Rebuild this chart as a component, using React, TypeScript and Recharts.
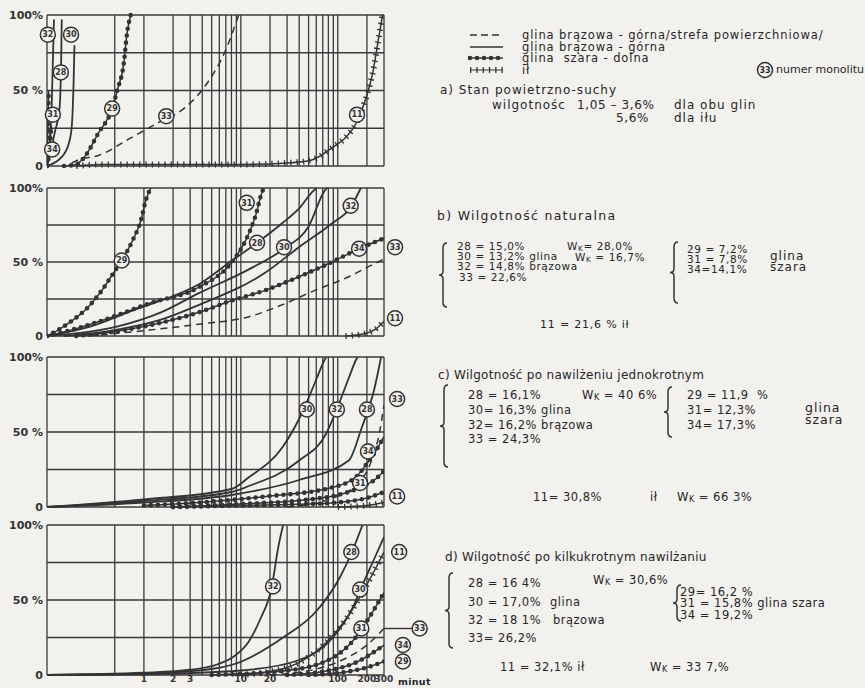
import React from 'react';
import { LineChart, Line, XAxis, YAxis, CartesianGrid, ReferenceDot, ReferenceLine } from 'recharts';

type P = { t: number; v: number };
const pts = (...pairs: number[][]): P[] => pairs.map(([t, v]) => ({ t, v }));

const PAPER = '#f2f1ee';
const INK = '#333333';
const FONT = '"DejaVu Sans", sans-serif';

// time axis (minutes, log) and percent axis
const xTicks = [0.1, 0.5, 1, 2, 3, 4, 5, 6, 7, 8, 9, 10, 20, 30, 40, 50, 60, 70, 80, 90, 100, 200, 300];
const xLabels = [1, 2, 3, 10, 20, 100, 200, 300];
const yTicks = [0, 25, 50, 75, 100];

// a) stan powietrzno-suchy
const a32 = pts([0.1, 0], [0.105, 12], [0.112, 42], [0.118, 97]);
const a28 = pts([0.1, 0], [0.105, 5], [0.12, 22], [0.135, 39], [0.14, 70], [0.142, 97]);
const a30 = pts([0.1, 0], [0.142, 6], [0.168, 15], [0.18, 26], [0.188, 55], [0.192, 80]);
const a31 = pts([0.1, 0], [0.102, 25], [0.104, 50]);
const a34 = pts([0.1, 0], [0.106, 10], [0.111, 27]);
const a29 = pts([0.15, 0], [0.2, 1], [0.25, 7], [0.34, 22], [0.47, 38], [0.53, 50], [0.62, 68], [0.67, 88], [0.73, 100]);
const a33 = pts([0.18, 2], [0.21, 4], [0.34, 7], [0.75, 19], [1.43, 29], [2.7, 39], [4.4, 54], [7, 77], [9.5, 100]);
const a11 = pts([0.2, 0], [0.35, 1], [1, 1], [10, 1], [30, 2], [54, 4], [87, 12], [121, 19], [154, 28], [177, 37], [200, 47], [230, 62], [260, 82], [290, 100]);

// b) wilgotnosc naturalna
const b29 = pts([0.1, 0], [0.13, 4], [0.17, 9], [0.27, 20], [0.37, 31], [0.49, 43], [0.59, 51], [0.77, 65], [0.93, 78], [1.05, 92], [1.18, 100]);
const b31 = pts([0.1, 0], [0.2, 5], [0.435, 12], [1.13, 22], [3.7, 33], [8.1, 50], [11.3, 65], [14.3, 82], [16.5, 97], [17.3, 100]);
const b28 = pts([0.1, 0], [0.3, 7], [0.75, 17], [2, 27], [3.7, 35], [8.1, 51], [14.7, 63], [26.5, 76], [39.7, 86], [54, 97], [60, 100]);
const b30 = pts([0.1, 0], [0.5, 6], [1.5, 16], [3.7, 29], [12.1, 45], [27.9, 59], [50, 74], [75, 99], [78, 100]);
const b32 = pts([0.15, 0], [0.5, 4], [1.5, 11], [3.7, 21], [18.1, 43], [39.7, 60], [87, 76], [136, 87], [173, 100]);
const b34 = pts([0.2, 0], [0.5, 3], [1.5, 9], [3.7, 16], [8.1, 24], [18.1, 31], [39.7, 40], [87, 50], [154, 58], [300, 66]);
const b33 = pts([0.27, 0], [1.13, 4], [3.7, 8], [12.1, 13], [26.5, 21], [59, 31], [130, 40], [210, 47], [300, 52]);
const b11 = pts([120, 0], [200, 2], [250, 5], [300, 10]);

// c) po nawilzeniu jednokrotnym
const c30 = pts([0.1, 0], [1, 5], [8, 12], [12.2, 20], [27, 40], [43, 63], [60, 85], [73, 98], [76, 100]);
const c32 = pts([0.1, 0], [1, 4], [8, 10], [12.1, 14], [40, 31], [76, 49], [103, 69], [130, 86], [154, 98], [160, 100]);
const c28 = pts([0.1, 0], [1, 3], [8, 8], [40, 18], [130, 31], [177, 53], [237, 78], [280, 100]);
const c33 = pts([30, 0], [80, 5], [150, 14], [220, 30], [270, 50], [300, 68]);
const c34 = pts([1, 1], [3.7, 3], [18, 7], [87, 13], [154, 20], [200, 29], [250, 38], [300, 47]);
const c31 = pts([2, 0], [10, 2], [50, 5], [100, 8], [170, 13], [250, 19], [300, 24]);
const c29 = pts([2, 0], [10, 1], [50, 2], [100, 3], [200, 6], [300, 10]);
const c11 = pts([100, 0], [200, 1], [300, 3]);

// d) po kilkukrotnym nawilzaniu
const d32 = pts([0.1, 0], [1, 1.5], [3, 3.5], [5.7, 7], [8.3, 12], [12, 22], [15.8, 37], [20.9, 59], [24.3, 85], [27.3, 100]);
const d28 = pts([0.1, 0], [1, 1], [5, 4], [8.3, 7], [27.3, 25], [61, 43], [105, 65], [138, 81], [180, 100]);
const d30 = pts([0.1, 0], [1, 0.5], [10, 3], [40, 10], [89, 25], [143, 45], [180, 60], [240, 78], [300, 92]);
const d11 = pts([10, 0], [30, 5], [77, 22], [124, 38], [180, 55], [250, 72], [300, 82]);
const d31 = pts([5, 0], [30, 3], [80, 10], [140, 22], [200, 36], [300, 55]);
const d33 = pts([20, 0], [60, 4], [120, 11], [200, 20], [300, 31]);
const d34 = pts([30, 0], [80, 3], [150, 8], [220, 14], [300, 20]);
const d29 = pts([50, 0], [120, 2], [200, 5], [300, 9]);

type Kind = 'solid' | 'dashed' | 'beads' | 'cross';
type S = { id: string; kind: Kind; data: P[] };
type Tag = { id: string; t: number; v: number };

const kindOf: Record<string, Kind> = {
  '28': 'solid', '30': 'solid', '32': 'solid', '33': 'dashed',
  '29': 'beads', '31': 'beads', '34': 'beads', '11': 'cross',
};
const mk = (m: Record<string, P[]>): S[] => Object.keys(m).map((id) => ({ id, kind: kindOf[id], data: m[id] }));

const panels = [
  {
    top: 15, bottom: 166,
    series: mk({ '32': a32, '28': a28, '30': a30, '31': a31, '34': a34, '29': a29, '33': a33, '11': a11 }),
    tags: [
      { id: '32', t: 0.102, v: 87 }, { id: '30', t: 0.177, v: 87 }, { id: '28', t: 0.139, v: 62 },
      { id: '31', t: 0.115, v: 34 }, { id: '34', t: 0.113, v: 11 }, { id: '29', t: 0.47, v: 38 },
      { id: '33', t: 1.7, v: 33 }, { id: '11', t: 158, v: 34 },
    ] as Tag[],
    leader: null as null | Tag,
  },
  {
    top: 188, bottom: 336,
    series: mk({ '29': b29, '31': b31, '28': b28, '30': b30, '32': b32, '34': b34, '33': b33, '11': b11 }),
    tags: [
      { id: '29', t: 0.59, v: 51 }, { id: '31', t: 11.5, v: 90 }, { id: '28', t: 14.7, v: 63 },
      { id: '30', t: 27.9, v: 60 }, { id: '32', t: 136, v: 88 }, { id: '34', t: 166, v: 59 },
      { id: '33', t: 390, v: 60 }, { id: '11', t: 390, v: 12 },
    ] as Tag[],
    leader: null as null | Tag,
  },
  {
    top: 357, bottom: 507,
    series: mk({ '30': c30, '32': c32, '28': c28, '33': c33, '34': c34, '31': c31, '29': c29, '11': c11 }),
    tags: [
      { id: '30', t: 48, v: 65 }, { id: '32', t: 98, v: 65 }, { id: '28', t: 200, v: 65 },
      { id: '33', t: 410, v: 72 }, { id: '34', t: 205, v: 37 }, { id: '31', t: 170, v: 16 },
      { id: '11', t: 410, v: 7 },
    ] as Tag[],
    leader: null as null | Tag,
  },
  {
    top: 525, bottom: 675,
    series: mk({ '32': d32, '28': d28, '30': d30, '11': d11, '31': d31, '33': d33, '34': d34, '29': d29 }),
    tags: [
      { id: '32', t: 21.5, v: 59 }, { id: '28', t: 138, v: 82 }, { id: '30', t: 170, v: 57 },
      { id: '31', t: 175, v: 31 }, { id: '11', t: 430, v: 82 }, { id: '33', t: 700, v: 31 },
      { id: '34', t: 470, v: 20 }, { id: '29', t: 470, v: 9 },
    ] as Tag[],
    leader: { id: '33', t: 600, v: 31 } as null | Tag,
  },
];

const tagShape = (id: string) => (p: any) => (
  <g>
    <circle cx={p.cx} cy={p.cy} r={7.5} fill={PAPER} stroke={INK} strokeWidth={1.5} />
    <text x={p.cx} y={p.cy} dy="0.35em" textAnchor="middle" fontSize={8} fontWeight="bold" fontFamily={FONT} fill={INK}>
      {id}
    </text>
  </g>
);

function seriesLines(s: S, key: string) {
  const out = [
    <Line
      key={key}
      data={s.data}
      dataKey="v"
      type="monotone"
      stroke={INK}
      strokeWidth={s.kind === 'solid' ? 1.8 : 1.5}
      strokeDasharray={s.kind === 'dashed' ? '7 5' : undefined}
      dot={false}
      activeDot={false}
      isAnimationActive={false}
    />,
  ];
  if (s.kind === 'beads') {
    out.push(
      <Line key={key + 'b'} data={s.data} dataKey="v" type="monotone" stroke={INK} strokeWidth={4.6}
        strokeDasharray="0 7" strokeLinecap="round" dot={false} activeDot={false} isAnimationActive={false} />
    );
  }
  if (s.kind === 'cross') {
    out.push(
      <Line key={key + 'c'} data={s.data} dataKey="v" type="monotone" stroke={INK} strokeWidth={6}
        strokeDasharray="1.3 5" dot={false} activeDot={false} isAnimationActive={false} />
    );
  }
  return out;
}

const yFmt = (v: number) => (v === 100 ? '100%' : v === 50 ? '50 %' : v === 0 ? '0' : '');
const xFmt = (v: number) => (xLabels.includes(v) ? String(v) : '');

function Panel({ p, last }: { p: (typeof panels)[number]; last: boolean }) {
  const h = p.bottom - p.top;
  const xh = last ? 12 : 0;
  const m = 8;
  return (
    <div style={{ position: 'absolute', left: 0, top: p.top - m }}>
      <LineChart width={430} height={h + 2 * m + xh - (last ? m : 0)} margin={{ top: m, right: 46, bottom: last ? 0 : m, left: 0 }}>
        <CartesianGrid stroke="#3a3a3a" strokeWidth={1.3} />
        <XAxis
          type="number" dataKey="t" scale="log" domain={[0.1, 300]} allowDataOverflow ticks={xTicks}
          hide={!last} height={xh} axisLine={false} tickLine={false} tickSize={0} tickMargin={1}
          interval={0} tickFormatter={xFmt}
          tick={{ fontSize: 9, fill: INK, fontFamily: FONT, fontWeight: 'bold' }}
        />
        <YAxis
          type="number" domain={[0, 100]} ticks={yTicks} width={47} axisLine={false} tickLine={false}
          tickSize={0} tickMargin={4} interval={0} tickFormatter={yFmt}
          tick={{ fontSize: 11, fill: INK, fontFamily: FONT, fontWeight: 'bold' }}
        />
        {p.series.flatMap((s, i) => seriesLines(s, 's' + i))}
        {p.leader && (
          <ReferenceLine
            segment={[{ x: 300, y: p.leader.v }, { x: p.leader.t, y: p.leader.v }]}
            stroke={INK} strokeWidth={1.4} ifOverflow="visible"
          />
        )}
        {p.tags.map((t, i) => (
          <ReferenceDot key={'t' + i} x={t.t} y={t.v} r={7.5} ifOverflow="visible" shape={tagShape(t.id)} />
        ))}
      </LineChart>
    </div>
  );
}

function Txt({ x, y, s = 12, ls = 0.5, lh, bold, children }: { x: number; y: number; s?: number; ls?: number; lh?: number; bold?: boolean; children: React.ReactNode }) {
  const h = lh ?? Math.round(s * 1.05);
  return (
    <div style={{
      position: 'absolute', left: x, top: y - h / 2, fontSize: s, lineHeight: `${h}px`, height: h,
      letterSpacing: ls, whiteSpace: 'pre', color: '#262626', fontFamily: FONT, fontWeight: bold ? 'bold' : 'normal',
    }}>
      {children}
    </div>
  );
}

const Wk = () => (
  <span>
    W<sub style={{ fontSize: '0.7em', verticalAlign: '-0.1em', lineHeight: 0 }}>K</sub>
  </span>
);

function brace(x: number, y1: number, y2: number) {
  const m = (y1 + y2) / 2;
  return `M ${x + 5} ${y1} Q ${x + 1} ${y1} ${x + 1} ${y1 + 5} L ${x + 1} ${m - 4} Q ${x + 1} ${m} ${x - 3} ${m} Q ${x + 1} ${m} ${x + 1} ${m + 4} L ${x + 1} ${y2 - 5} Q ${x + 1} ${y2} ${x + 5} ${y2}`;
}
const braces = [
  [442, 243, 307], [673, 242, 303],
  [443, 385, 467], [667, 387, 437],
  [448, 573, 648], [676, 585, 621],
];

// small-row text settings
const B = { s: 10.5, ls: 0.6, lh: 9.5 };
const R = { s: 11.5, ls: 0.5, lh: 13 };
const L = { s: 11.5, ls: 0.9, lh: 10 };

export default function App() {
  return (
    <div style={{ position: 'absolute', left: 0, top: 0, width: 865, height: 688, background: PAPER, overflow: 'hidden', fontFamily: FONT }}>
      {panels.map((p, i) => (
        <Panel key={i} p={p} last={i === panels.length - 1} />
      ))}
      <Txt x={398} y={682} s={9.5} ls={0.3} lh={10} bold>minut</Txt>

      <svg width={865} height={688} style={{ position: 'absolute', left: 0, top: 0, pointerEvents: 'none' }}>
        <line x1={470} y1={35} x2={503} y2={35} stroke={INK} strokeWidth={1.6} strokeDasharray="7 4" />
        <line x1={470} y1={47} x2={503} y2={47} stroke={INK} strokeWidth={1.6} />
        <line x1={470} y1={58} x2={503} y2={58} stroke={INK} strokeWidth={1.4} />
        <line x1={470} y1={58} x2={503} y2={58} stroke={INK} strokeWidth={4.6} strokeDasharray="0 7" strokeLinecap="round" />
        <line x1={470} y1={70} x2={503} y2={70} stroke={INK} strokeWidth={1.2} />
        <line x1={470} y1={70} x2={503} y2={70} stroke={INK} strokeWidth={6} strokeDasharray="1.3 5" />
        <circle cx={765} cy={70} r={7.5} fill={PAPER} stroke={INK} strokeWidth={1.5} />
        <text x={765} y={70} dy="0.35em" textAnchor="middle" fontSize={8} fontWeight="bold" fontFamily={FONT} fill={INK}>33</text>
        {braces.map(([x, a, b], i) => (
          <path key={i} d={brace(x, a, b)} fill="none" stroke={INK} strokeWidth={1.5} />
        ))}
      </svg>

      <Txt x={522} y={35} {...L}>glina brązowa - górna/strefa powierzchniowa/</Txt>
      <Txt x={522} y={47} {...L}>glina brązowa - górna</Txt>
      <Txt x={522} y={58} {...L}>glina  szara - dolna</Txt>
      <Txt x={522} y={70} {...L}>ił</Txt>
      <Txt x={776} y={70} s={11} ls={0} lh={10}>numer monolitu</Txt>

      <Txt x={440} y={90} ls={1}>a) Stan powietrzno-suchy</Txt>
      <Txt x={492} y={105} ls={1}>wilgotnośc</Txt>
      <Txt x={577} y={105} ls={0.6}>1,05 – 3,6%</Txt>
      <Txt x={674} y={105} ls={1}>dla obu glin</Txt>
      <Txt x={616} y={118} ls={0.6}>5,6%</Txt>
      <Txt x={674} y={118} ls={1}>dla iłu</Txt>

      <Txt x={437} y={215} s={12.5} ls={1.3}>b) Wilgotność naturalna</Txt>
      <Txt x={457} y={247} {...B}>28 = 15,0%</Txt>
      <Txt x={567} y={247} {...B}><Wk />= 28,0%</Txt>
      <Txt x={457} y={257} {...B}>30 = 13,2% glina</Txt>
      <Txt x={575} y={258} {...B}><Wk /> = 16,7%</Txt>
      <Txt x={457} y={267} {...B}>32 = 14,8% brązowa</Txt>
      <Txt x={459} y={278} {...B}>33 = 22,6%</Txt>
      <Txt x={687} y={250} {...B}>29 = 7,2%</Txt>
      <Txt x={687} y={260} {...B}>31 = 7,8%</Txt>
      <Txt x={687} y={270} {...B}>34=14,1%</Txt>
      <Txt x={770} y={256} s={12} ls={1} lh={10.5}>glina</Txt>
      <Txt x={770} y={267} s={12} ls={1} lh={10.5}>szara</Txt>
      <Txt x={540} y={325} s={11} ls={0.8}>11 = 21,6 % ił</Txt>

      <Txt x={438} y={375} s={12} ls={0.3}>c) Wilgotność po nawilżeniu jednokrotnym</Txt>
      <Txt x={468} y={395} {...R}>28 = 16,1%</Txt>
      <Txt x={582} y={395} {...R}><Wk /> = 40 6%</Txt>
      <Txt x={468} y={410} {...R}>30= 16,3% glina</Txt>
      <Txt x={468} y={425} {...R}>32= 16,2% brązowa</Txt>
      <Txt x={468} y={439} {...R}>33 = 24,3%</Txt>
      <Txt x={687} y={395} {...R}>29 = 11,9  %</Txt>
      <Txt x={687} y={410} {...R}>31= 12,3%</Txt>
      <Txt x={687} y={425} {...R}>34= 17,3%</Txt>
      <Txt x={805} y={408} s={12.5} ls={1} lh={11.5}>glina</Txt>
      <Txt x={805} y={420} s={12.5} ls={1} lh={11.5}>szara</Txt>
      <Txt x={533} y={497} {...R}>11= 30,8%</Txt>
      <Txt x={650} y={497} {...R}>ił</Txt>
      <Txt x={677} y={497} {...R}><Wk /> = 66 3%</Txt>

      <Txt x={445} y={557} s={12} ls={0.3}>d) Wilgotność po kilkukrotnym nawilżaniu</Txt>
      <Txt x={468} y={583} {...R}>28 = 16 4%</Txt>
      <Txt x={593} y={580} {...R}><Wk /> = 30,6%</Txt>
      <Txt x={468} y={602} {...R}>30 = 17,0%</Txt>
      <Txt x={550} y={602} {...R}>glina</Txt>
      <Txt x={468} y={620} {...R}>32 = 18 1%</Txt>
      <Txt x={553} y={620} {...R}>brązowa</Txt>
      <Txt x={468} y={638} {...R}>33= 26,2%</Txt>
      <Txt x={680} y={592} s={11.5} ls={0.5} lh={11}>29= 16,2 %</Txt>
      <Txt x={680} y={603} s={11.5} ls={0.5} lh={11}>31 = 15,8% glina szara</Txt>
      <Txt x={680} y={615} s={11.5} ls={0.5} lh={11}>34 = 19,2%</Txt>
      <Txt x={500} y={667} {...R}>11 = 32,1% ił</Txt>
      <Txt x={650} y={667} {...R}><Wk /> = 33 7,%</Txt>
    </div>
  );
}
